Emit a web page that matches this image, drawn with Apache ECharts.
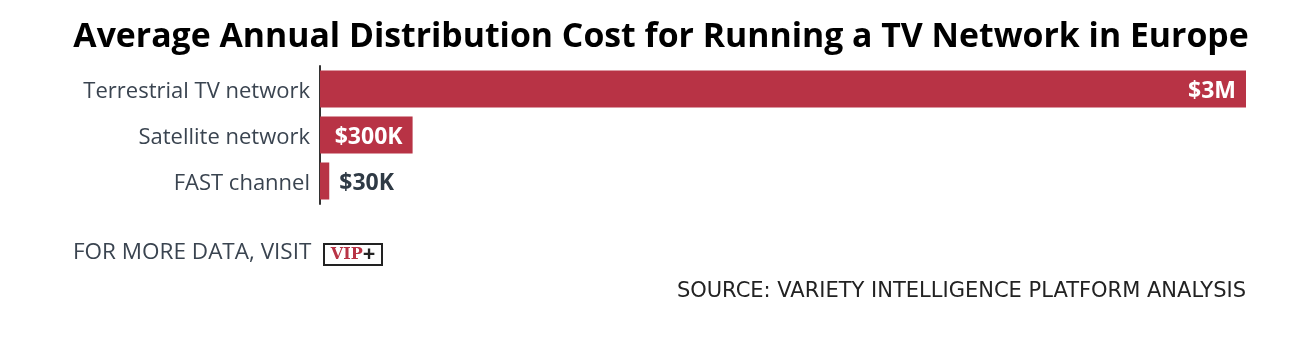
<!DOCTYPE html>
<html><head><meta charset="utf-8">
<script src="https://cdn.jsdelivr.net/npm/echarts@6/dist/echarts.min.js"></script>
<style>html,body{margin:0;padding:0;background:#fff}#c{width:1296px;height:346px}</style>
</head><body><div id="c"></div>
<script>
const title = 'Average Annual Distribution Cost for Running a TV Network in Europe';
const categories = ['Terrestrial TV network', 'Satellite network', 'FAST channel'];
const values = [3000000, 300000, 30000];
const valueLabels = ['$3M', '$300K', '$30K'];
const footerText = 'FOR MORE DATA, VISIT';
const sourceText = 'SOURCE: VARIETY INTELLIGENCE PLATFORM ANALYSIS';

const FONT = '"Open Sans", sans-serif';
const BAR = '#b83345';
const DARK = '#2f3a45';

const chart = echarts.init(document.getElementById('c'), null, {renderer: 'canvas'});
const data = values.map((v, i) => {
  const inside = v / Math.max(...values) > 0.05;
  return {
    value: v,
    label: {
      show: true,
      formatter: '{a|' + valueLabels[i] + '}',
      position: inside ? 'insideRight' : 'right',
      distance: 10,
      rich: {a: {padding: [5, 0, 0, 0], color: inside ? '#fff' : DARK,
        fontFamily: FONT, fontWeight: 'bold', fontSize: 23}}
    }
  };
});
chart.setOption({
  animation: false,
  title: {
    text: title, left: 656, textAlign: 'center', top: 15,
    textStyle: {fontFamily: FONT, fontWeight: 'bold', fontSize: 33.8, color: '#000'}
  },
  grid: {left: 320, right: 50, top: 66, height: 138, containLabel: false},
  xAxis: {type: 'value', min: 0, max: 3000000, show: false},
  yAxis: {
    type: 'category', data: categories, inverse: true,
    axisLine: {show: true, lineStyle: {color: '#333', width: 2}},
    axisTick: {show: false},
    axisLabel: {margin: 10, formatter: v => '{a|' + v + '}',
      rich: {a: {fontFamily: FONT, fontSize: 22, color: '#3a4450', padding: [6, 0, 0, 0]}}}
  },
  series: [{
    type: 'bar', data: data, barWidth: 37,
    itemStyle: {color: BAR}
  }],
  graphic: [
    {type: 'text', left: 73, top: 241,
     style: {text: footerText, font: '22.5px ' + FONT, fill: '#3a4450'}},
    {type: 'group', left: 323, top: 243, children: [
      {type: 'rect', shape: {x: 0, y: 0, width: 58, height: 21},
       style: {fill: '#fff', stroke: '#222', lineWidth: 2}},
      {type: 'text', x: 29, y: 11,
       style: {text: '{v|VIP}{p|+}', align: 'center', verticalAlign: 'middle',
         rich: {v: {fill: BAR, font: 'bold 16px "DejaVu Serif", serif'}, p: {fill: '#222', font: 'bold 22px ' + FONT}}}}
    ]},
    {type: 'text', right: 50, top: 281,
     style: {text: sourceText, font: '21px "DejaVu Sans", sans-serif', fill: '#222'}}
  ]
});
</script></body></html>
